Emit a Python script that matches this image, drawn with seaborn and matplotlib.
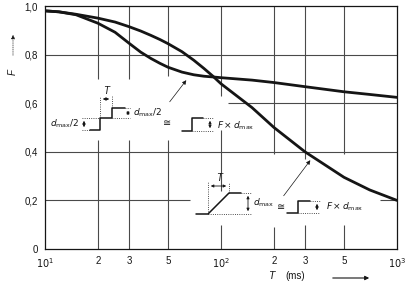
import numpy as np
import pandas as pd
import matplotlib
matplotlib.use("Agg")
import matplotlib.pyplot as plt
import seaborn as sns
from matplotlib.lines import Line2D

# ---------------- data ----------------
T_ms = [10, 12, 15, 20, 25, 30, 35, 40, 45, 50, 60, 70, 80, 90, 100, 150, 200, 300, 500, 700, 1000]
F_step = [0.98, 0.976, 0.964, 0.929, 0.892, 0.847, 0.810, 0.784, 0.764, 0.748, 0.728, 0.717, 0.711, 0.708, 0.705,
          0.695, 0.685, 0.668, 0.647, 0.636, 0.624]
F_ramp = [0.98, 0.976, 0.966, 0.95, 0.934, 0.915, 0.897, 0.879, 0.862, 0.845, 0.812, 0.777, 0.743, 0.711, 0.68,
          0.582, 0.50, 0.40, 0.295, 0.243, 0.20]

x_major = [10, 20, 30, 50, 100, 200, 300, 500, 1000]
x_major_labels = [r"$10^1$", "2", "3", "5", r"$10^2$", "2", "3", "5", r"$10^3$"]
x_minor = [40, 60, 70, 80, 90, 400, 600, 700, 800, 900]
y_major = [0, 0.2, 0.4, 0.6, 0.8, 1.0]
y_major_labels = ["0", "0,2", "0,4", "0,6", "0,8", "1,0"]

df = pd.DataFrame({
    "T": T_ms * 2,
    "F": F_step + F_ramp,
    "curve": ["step"] * len(T_ms) + ["ramp"] * len(T_ms),
})

# ---------------- figure ----------------
sns.set_style("white")
plt.rcParams["font.family"] = ["Liberation Sans", "DejaVu Sans"]
plt.rcParams["mathtext.fontset"] = "dejavusans"

W, H = 406, 290
fig = plt.figure(figsize=(W / 100, H / 100), dpi=100)
ax = fig.add_axes([45 / W, 1 - 249 / H, (397 - 45) / W, (249 - 6) / H])

ink = "#151515"
grid_c = "#4a4a4a"

# grid segments (broken like the original print)
vsegs = [(20, [(0.70, 1.0), (0.0, 0.45)]),
         (30, [(0.70, 1.0), (0.0, 0.45)]),
         (50, [(0.71, 1.0), (0.0, 0.45)]),
         (100, [(0.63, 1.0), (0.24, 0.49), (0.0, 0.10)]),
         (200, [(0.39, 1.0), (0.0, 0.09)]),
         (300, [(0.37, 1.0), (0.0, 0.10)]),
         (500, [(0.39, 1.0), (0.0, 0.10)])]
for xv, segs in vsegs:
    for a, b in segs:
        ax.vlines(xv, a, b, color=grid_c, lw=0.8, zorder=1)
hsegs = [(0.8, [(10, 1000)]), (0.6, [(110, 1000)]), (0.4, [(10, 1000)]),
         (0.2, [(10, 67), (800, 1000)])]
for yv, segs in hsegs:
    for a, b in segs:
        ax.hlines(yv, a, b, color=grid_c, lw=0.8, zorder=1)

sns.lineplot(data=df, x="T", y="F", hue="curve", palette={"step": ink, "ramp": ink},
             linewidth=2.0, legend=False, ax=ax, zorder=3)

ax.set_xscale("log")
ax.set_xlim(10, 1000)
ax.set_ylim(0, 1.0)
ax.set_xticks(x_major)
ax.set_xticklabels(x_major_labels)
ax.set_xticks(x_minor, minor=True)
ax.xaxis.set_minor_formatter(matplotlib.ticker.NullFormatter())
ax.set_yticks(y_major)
ax.set_yticklabels(y_major_labels)
ax.tick_params(axis="both", which="major", direction="out", length=3, width=0.8,
               labelsize=7, colors=ink, pad=2)
ax.tick_params(axis="x", which="minor", direction="out", length=2.5, width=0.7, colors=ink)
ax.set_xlabel("")
ax.set_ylabel("")
for s in ax.spines.values():
    s.set_color(ink)
    s.set_linewidth(0.9)
    s.set_visible(True)


# ---------------- annotations (figure pixel coordinates) ----------------
def P(x, y):
    return (x / W, 1 - y / H)


def seg(xs, ys, lw=1.0, ls="-", color=ink):
    fig.add_artist(Line2D([x / W for x in xs], [1 - y / H for y in ys],
                          transform=fig.transFigure, lw=lw, ls=ls, color=color))


def dim(p0, p1):
    fig.add_artist(matplotlib.patches.FancyArrowPatch(P(*p0), P(*p1), transform=fig.transFigure,
                                                      arrowstyle="<|-|>", mutation_scale=4,
                                                      lw=0.6, color=ink))


def txt(x, y, s, size=6.5, ha="left", va="center", **kw):
    fig.text(x / W, 1 - y / H, s, fontsize=size, ha=ha, va=va, color=ink, **kw)


# axis labels
txt(13, 72, "F", size=7, ha="center", rotation=90, style="italic")
fig.add_artist(matplotlib.patches.FancyArrowPatch(P(13, 58), P(13, 32), transform=fig.transFigure,
                                                  arrowstyle="-|>", mutation_scale=6, lw=0.5,
                                                  ls=":", color=ink))
txt(271, 276, "T", size=7.5, ha="center", style="italic")
txt(295, 276, "(ms)", size=7, ha="center")
fig.add_artist(matplotlib.patches.FancyArrowPatch(P(330, 278), P(372, 278), transform=fig.transFigure,
                                                  arrowstyle="-|>", mutation_scale=6, lw=0.8,
                                                  color=ink))

dot = dict(lw=0.6, ls=":")
# step inset
seg([90, 100, 100, 112, 112, 125], [130, 130, 118, 118, 108, 108], lw=1.1)
seg([100, 100], [118, 96], **dot)
seg([112, 112], [108, 96], **dot)
dim((100, 99), (112, 99))
txt(106, 91, "T", size=7, ha="center", style="italic")
seg([125, 130], [108, 108], **dot)
seg([112, 130], [118, 118], **dot)
dim((128, 108), (128, 118))
txt(133, 113, r"$d_{\mathrm{max}}/2$", size=6.5)
seg([82, 100], [118, 118], **dot)
seg([82, 90], [130, 130], **dot)
dim((84, 118), (84, 130))
txt(79, 124, r"$d_{\mathrm{max}}/2$", size=6.5, ha="right")
txt(167, 123, "≅", size=7, ha="center")
seg([182, 192, 192, 203], [131, 131, 118, 118], lw=1.1)
seg([192, 213], [131, 131], **dot)
seg([203, 213], [118, 118], **dot)
dim((210, 118), (210, 131))
txt(217, 126, r"$F \times d_{\mathrm{max}}$", size=6.5)
fig.add_artist(matplotlib.patches.FancyArrowPatch(P(168, 104), P(188, 78), transform=fig.transFigure,
                                                  arrowstyle="-|>", mutation_scale=6, lw=0.5,
                                                  color=ink))

# ramp inset
seg([196, 208, 229, 241], [214, 214, 193, 193], lw=1.1)
seg([208, 208], [214, 182], **dot)
seg([229, 229], [193, 182], **dot)
dim((208, 186), (229, 186))
txt(219, 178, "T", size=7, ha="center", style="italic")
seg([208, 251], [214, 214], **dot)
seg([241, 251], [193, 193], **dot)
dim((248, 193), (248, 214))
txt(253, 203, r"$d_{\mathrm{max}}$", size=6.5)
txt(281, 207, "≅", size=7, ha="center")
seg([287, 298, 298, 310], [213, 213, 201, 201], lw=1.1)
seg([298, 320], [213, 213], **dot)
seg([310, 320], [201, 201], **dot)
dim((317, 201), (317, 213))
txt(326, 207, r"$F \times d_{\mathrm{max}}$", size=6.5)
fig.add_artist(matplotlib.patches.FancyArrowPatch(P(282, 198), P(312, 158), transform=fig.transFigure,
                                                  arrowstyle="-|>", mutation_scale=6, lw=0.5,
                                                  color=ink))

fig.savefig("out.png", dpi=100)
